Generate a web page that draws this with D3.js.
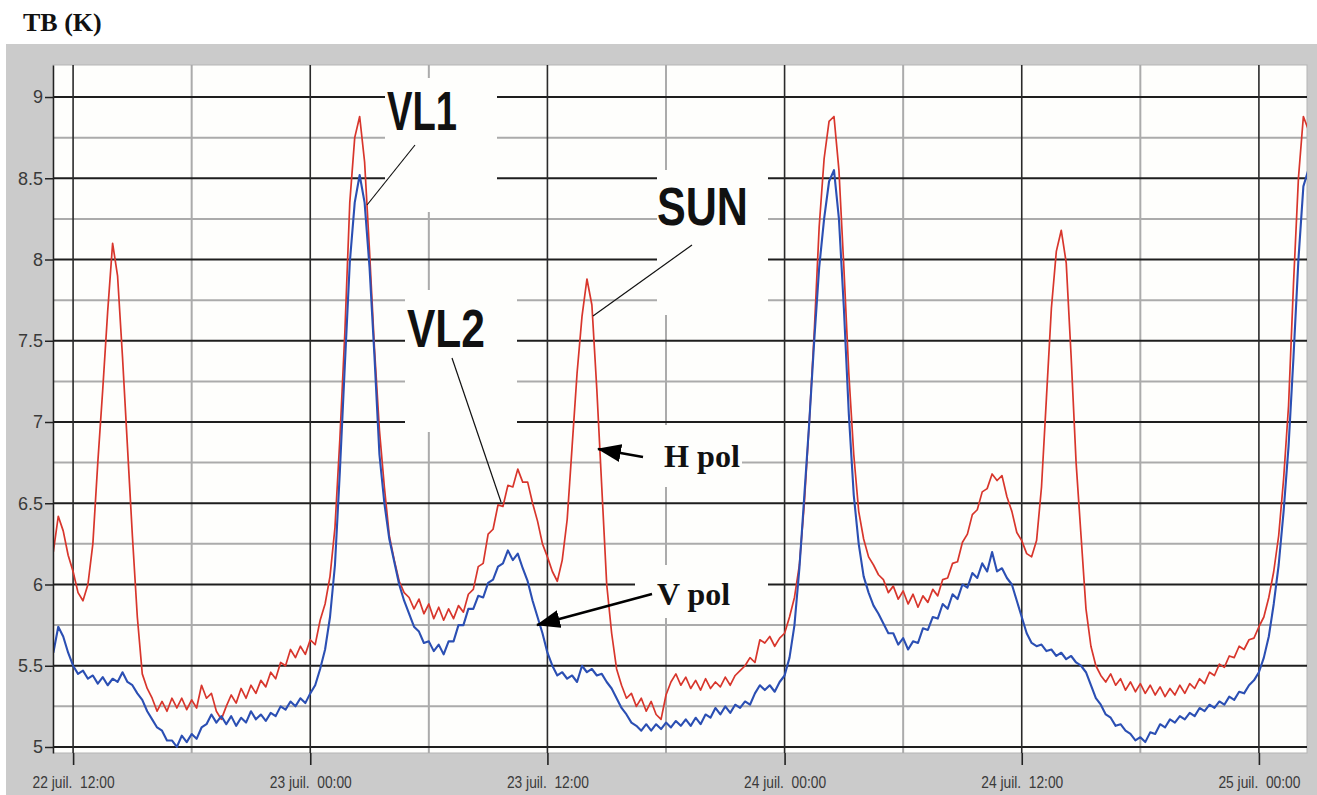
<!DOCTYPE html>
<html>
<head>
<meta charset="utf-8">
<script src="https://cdn.jsdelivr.net/npm/d3@7"></script>
<style>
  body { margin: 0; background: #fff; }
  svg { display: block; }
</style>
</head>
<body>
<svg id="chart" width="1317" height="795"></svg>
<script>
// Brightness temperature, one sample every 15 min starting 22 juil. 11:00
const startTime = Date.UTC(2008, 6, 22, 11, 0)
const stepMinutes = 15

// H pol (red)
const hPol = [
  6.2, 6.42, 6.33, 6.18,   6.08, 5.95, 5.9, 6.0,     6.25, 6.75, 7.2, 7.68,    8.1, 7.9, 7.4, 6.85,
  6.3, 5.8, 5.45, 5.36,    5.3, 5.22, 5.28, 5.22,    5.3, 5.24, 5.3, 5.23,     5.29, 5.24, 5.38, 5.3,
  5.33, 5.22, 5.17, 5.25,  5.32, 5.27, 5.36, 5.3,    5.38, 5.33, 5.41, 5.37,   5.46, 5.42, 5.52, 5.5,
  5.6, 5.55, 5.62, 5.57,   5.66, 5.63, 5.78, 5.88,   6.05, 6.35, 6.9, 7.55,    8.35, 8.75, 8.88, 8.6,
  8.05, 7.45, 6.95, 6.6,   6.3, 6.15, 6.02, 5.95,    5.92, 5.85, 5.91, 5.82,   5.88, 5.79, 5.86, 5.78,
  5.85, 5.79, 5.87, 5.83,  5.94, 5.97, 6.11, 6.13,   6.31, 6.34, 6.49, 6.48,   6.61, 6.6, 6.71, 6.63,
  6.63, 6.5, 6.39, 6.25,   6.17, 6.08, 6.02, 6.15,   6.4, 6.85, 7.3, 7.65,     7.88, 7.72, 7.2, 6.6,
  6.0, 5.7, 5.48, 5.38,    5.3, 5.33, 5.25, 5.3,     5.22, 5.28, 5.2, 5.17,    5.32, 5.4, 5.45, 5.38,
  5.43, 5.36, 5.41, 5.35,  5.42, 5.36, 5.4, 5.37,    5.43, 5.38, 5.44, 5.47,   5.5, 5.55, 5.52, 5.66,
  5.64, 5.68, 5.62, 5.67,  5.7, 5.8, 5.92, 6.12,     6.5, 7.0, 7.55, 8.2,      8.62, 8.85, 8.88, 8.55,
  7.95, 7.3, 6.8, 6.45,    6.28, 6.17, 6.12, 6.06,   6.03, 5.95, 5.99, 5.91,   5.96, 5.88, 5.94, 5.86,
  5.93, 5.89, 5.97, 5.93,  6.03, 6.04, 6.13, 6.14,   6.26, 6.31, 6.43, 6.46,   6.57, 6.59, 6.68, 6.64,
  6.67, 6.54, 6.45, 6.32,  6.27, 6.19, 6.17, 6.27,   6.6, 7.15, 7.7, 8.05,     8.18, 7.98, 7.4, 6.75,
  6.3, 5.85, 5.62, 5.5,    5.44, 5.4, 5.45, 5.38,    5.42, 5.35, 5.4, 5.34,    5.39, 5.33, 5.38, 5.32,
  5.37, 5.31, 5.36, 5.32,  5.38, 5.33, 5.39, 5.36,   5.42, 5.39, 5.46, 5.44,   5.51, 5.49, 5.56, 5.55,
  5.62, 5.6, 5.66, 5.67,   5.74, 5.8, 5.92, 6.08,    6.3, 6.65, 7.1, 7.85,     8.5, 8.88, 8.8
]

// V pol (blue)
const vPol = [
  5.58, 5.74, 5.68, 5.58,  5.5, 5.45, 5.47, 5.42,    5.44, 5.39, 5.43, 5.38,   5.42, 5.4, 5.46, 5.4,
  5.38, 5.33, 5.29, 5.22,  5.17, 5.12, 5.1, 5.04,    5.04, 5.0, 5.07, 5.03,    5.08, 5.05, 5.12, 5.14,
  5.2, 5.15, 5.19, 5.14,   5.19, 5.13, 5.18, 5.15,   5.22, 5.17, 5.2, 5.16,    5.21, 5.19, 5.25, 5.23,
  5.28, 5.25, 5.3, 5.27,   5.33, 5.38, 5.48, 5.6,    5.8, 6.12, 6.7, 7.35,     7.98, 8.35, 8.52, 8.35,
  7.95, 7.4, 6.8, 6.5,     6.28, 6.14, 6.0, 5.9,     5.82, 5.74, 5.71, 5.64,   5.65, 5.59, 5.63, 5.57,
  5.65, 5.65, 5.75, 5.75,  5.85, 5.85, 5.93, 5.92,   6.01, 6.03, 6.11, 6.13,   6.21, 6.15, 6.19, 6.1,
  6.02, 5.9, 5.8, 5.7,     5.58, 5.5, 5.44, 5.46,    5.42, 5.44, 5.4, 5.5,     5.46, 5.48, 5.44, 5.45,
  5.4, 5.36, 5.3, 5.24,    5.2, 5.15, 5.13, 5.1,     5.14, 5.1, 5.14, 5.11,    5.15, 5.12, 5.16, 5.13,
  5.17, 5.13, 5.18, 5.14,  5.2, 5.18, 5.24, 5.2,     5.25, 5.21, 5.26, 5.24,   5.28, 5.26, 5.33, 5.38,
  5.35, 5.38, 5.34, 5.4,   5.44, 5.55, 5.75, 6.1,    6.55, 7.0, 7.5, 7.95,     8.25, 8.48, 8.55, 8.25,
  7.7, 7.05, 6.55, 6.25,   6.05, 5.95, 5.87, 5.82,   5.76, 5.7, 5.7, 5.63,     5.67, 5.6, 5.65, 5.64,
  5.73, 5.72, 5.8, 5.79,   5.88, 5.85, 5.94, 5.91,   6.0, 5.98, 6.07, 6.04,    6.13, 6.08, 6.2, 6.08,
  6.1, 6.04, 6.0, 5.9,     5.8, 5.7, 5.64, 5.62,     5.63, 5.59, 5.6, 5.56,    5.58, 5.54, 5.56, 5.52,
  5.5, 5.46, 5.38, 5.3,    5.26, 5.2, 5.18, 5.13,    5.14, 5.1, 5.08, 5.04,    5.06, 5.03, 5.09, 5.08,
  5.14, 5.12, 5.17, 5.15,  5.19, 5.17, 5.21, 5.19,   5.24, 5.22, 5.26, 5.24,   5.28, 5.26, 5.31, 5.29,
  5.34, 5.33, 5.38, 5.41,  5.46, 5.55, 5.68, 5.88,   6.12, 6.45, 6.85, 7.4,    8.0, 8.45, 8.55
]

const yMajor = [5, 5.5, 6, 6.5, 7, 7.5, 8, 8.5, 9]
const yMinor = [5.25, 5.75, 6.25, 6.75, 7.25, 7.75, 8.25, 8.75]
const xMajor = [
  Date.UTC(2008, 6, 22, 12), Date.UTC(2008, 6, 23, 0), Date.UTC(2008, 6, 23, 12),
  Date.UTC(2008, 6, 24, 0), Date.UTC(2008, 6, 24, 12), Date.UTC(2008, 6, 25, 0)
].map(d => new Date(d))
const xMinor = [
  Date.UTC(2008, 6, 22, 18), Date.UTC(2008, 6, 23, 6), Date.UTC(2008, 6, 23, 18),
  Date.UTC(2008, 6, 24, 6), Date.UTC(2008, 6, 24, 18)
].map(d => new Date(d))

const plotLeft = 53, plotRight = 1307, plotTop = 65, plotBottom = 753

const x = d3.scaleUtc()
  .domain([new Date(Date.UTC(2008, 6, 22, 10, 59)), new Date(Date.UTC(2008, 6, 25, 2, 26))])
  .range([plotLeft, plotRight])
const y = d3.scaleLinear().domain([4.963, 9.197]).range([plotBottom, plotTop])

const svg = d3.select('#chart')

svg.append('rect').attr('width', 1317).attr('height', 795).style('fill', '#ffffff')
svg.append('rect').attr('x', 6).attr('y', 44).attr('width', 1311).attr('height', 751).style('fill', '#cbcbcb')
svg.append('text').attr('x', 23).attr('y', 31).text('TB (K)')
  .style('font-family', '"Liberation Serif", serif').style('font-weight', 'bold').style('font-size', '26px').style('fill', '#111')

svg.append('rect').attr('x', plotLeft).attr('y', plotTop).attr('width', plotRight - plotLeft).attr('height', plotBottom - plotTop)
  .style('fill', '#fefefc').style('stroke', '#b5b5b5').style('stroke-width', 1)

const defs = svg.append('defs')
defs.append('clipPath').attr('id', 'plotClip')
  .append('rect').attr('x', plotLeft).attr('y', plotTop).attr('width', plotRight - plotLeft).attr('height', plotBottom - plotTop)

const grid = svg.append('g')
grid.selectAll('.hMinor').data(yMinor).enter().append('line')
  .attr('x1', plotLeft).attr('x2', plotRight).attr('y1', d => y(d)).attr('y2', d => y(d))
  .style('stroke', '#ababab').style('stroke-width', 2)
grid.selectAll('.vMinor').data(xMinor).enter().append('line')
  .attr('x1', d => x(d)).attr('x2', d => x(d)).attr('y1', plotTop).attr('y2', plotBottom)
  .style('stroke', '#ababab').style('stroke-width', 2)
grid.selectAll('.hMajor').data(yMajor).enter().append('line')
  .attr('x1', plotLeft).attr('x2', plotRight).attr('y1', d => y(d)).attr('y2', d => y(d))
  .style('stroke', '#1e1e1e').style('stroke-width', 2)
grid.selectAll('.vMajor').data(xMajor).enter().append('line')
  .attr('x1', d => x(d)).attr('x2', d => x(d)).attr('y1', plotTop).attr('y2', plotBottom)
  .style('stroke', '#2a2a2a').style('stroke-width', 1.6)

// white boxes pasted behind the annotation texts
const boxes = [
  [385, 78, 112, 134], [405, 290, 112, 142], [657, 170, 111, 145],
  [600, 425, 142, 62], [635, 565, 133, 53]
]
svg.selectAll('.box').data(boxes).enter().append('rect')
  .attr('x', b => b[0]).attr('y', b => b[1]).attr('width', b => b[2]).attr('height', b => b[3])
  .style('fill', '#fefefc')

const line = d3.line()
  .x((d, i) => x(new Date(startTime + i * stepMinutes * 60000)))
  .y(d => y(d))

const plot = svg.append('g').attr('clip-path', 'url(#plotClip)')
plot.append('path').datum(hPol).attr('d', line)
  .style('fill', 'none').style('stroke', '#d8362c').style('stroke-width', 1.7).style('stroke-linejoin', 'round')
plot.append('path').datum(vPol).attr('d', line)
  .style('fill', 'none').style('stroke', '#2b4fb3').style('stroke-width', 2.1).style('stroke-linejoin', 'round')

// axes
const yAxis = svg.append('g').attr('transform', `translate(${plotLeft},0)`)
  .call(d3.axisLeft(y).tickValues(yMajor).tickSize(8).tickSizeOuter(0).tickFormat(d3.format('~g')))
yAxis.select('.domain').style('stroke', '#222').style('stroke-width', 1.5)
yAxis.selectAll('.tick line').style('stroke', '#222').style('stroke-width', 1.5)
yAxis.selectAll('.tick text').attr('x', -10)
  .style('font-family', '"Liberation Sans", Arial, sans-serif').style('font-size', '18px').style('fill', '#3a3a3a')

const fmtDay = d3.utcFormat('%d'), fmtHour = d3.utcFormat('%H:%M')
const xAxis = svg.append('g').attr('transform', `translate(0,${plotBottom})`)
  .call(d3.axisBottom(x).tickValues(xMajor).tickSize(12).tickSizeOuter(0)
    .tickFormat(d => fmtDay(d) + ' juil.\u00a0 ' + fmtHour(d)))
xAxis.select('.domain').remove()
xAxis.selectAll('.tick line').style('stroke', '#222').style('stroke-width', 1.6)
xAxis.selectAll('.tick text').attr('y', 35).attr('dy', 0)
  .attr('textLength', 82).attr('lengthAdjust', 'spacingAndGlyphs')
  .style('font-family', '"Liberation Sans", Arial, sans-serif').style('font-size', '16px').style('fill', '#3a3a3a')

// annotations
defs.append('marker').attr('id', 'head').attr('viewBox', '0 0 24 18')
  .attr('markerUnits', 'userSpaceOnUse').attr('markerWidth', 24).attr('markerHeight', 18)
  .attr('refX', 23).attr('refY', 9).attr('orient', 'auto')
  .append('path').attr('d', 'M0,0 L24,9 L0,18 Z').style('fill', '#000')

const leaders = [[415, 145, 367, 205], [452, 358, 501, 502], [692, 245, 593, 316]]
svg.selectAll('.leader').data(leaders).enter().append('line')
  .attr('x1', l => l[0]).attr('y1', l => l[1]).attr('x2', l => l[2]).attr('y2', l => l[3])
  .style('stroke', '#111').style('stroke-width', 1.2)

const arrows = [[643, 457, 598, 449], [652, 594, 537, 625]]
svg.selectAll('.arrow').data(arrows).enter().append('line')
  .attr('x1', l => l[0]).attr('y1', l => l[1]).attr('x2', l => l[2]).attr('y2', l => l[3])
  .attr('marker-end', 'url(#head)')
  .style('stroke', '#000').style('stroke-width', 2.6)

const bigLabels = [['VL1', 387, 130, 55, 70], ['VL2', 407, 347, 54, 78], ['SUN', 657, 225, 53, 91]]
svg.selectAll('.big').data(bigLabels).enter().append('text')
  .attr('x', d => d[1]).attr('y', d => d[2]).text(d => d[0])
  .attr('textLength', d => d[4]).attr('lengthAdjust', 'spacingAndGlyphs')
  .style('font-family', '"Liberation Sans", Arial, sans-serif').style('font-weight', 'bold')
  .style('font-size', d => d[3] + 'px').style('fill', '#111')

const polLabels = [['H pol', 664, 467, 76], ['V pol', 657, 605, 73]]
svg.selectAll('.pol').data(polLabels).enter().append('text')
  .attr('x', d => d[1]).attr('y', d => d[2]).text(d => d[0])
  .attr('textLength', d => d[3]).attr('lengthAdjust', 'spacingAndGlyphs')
  .style('font-family', '"Liberation Serif", serif').style('font-weight', 'bold')
  .style('font-size', '32px').style('fill', '#111')
</script>
</body>
</html>
